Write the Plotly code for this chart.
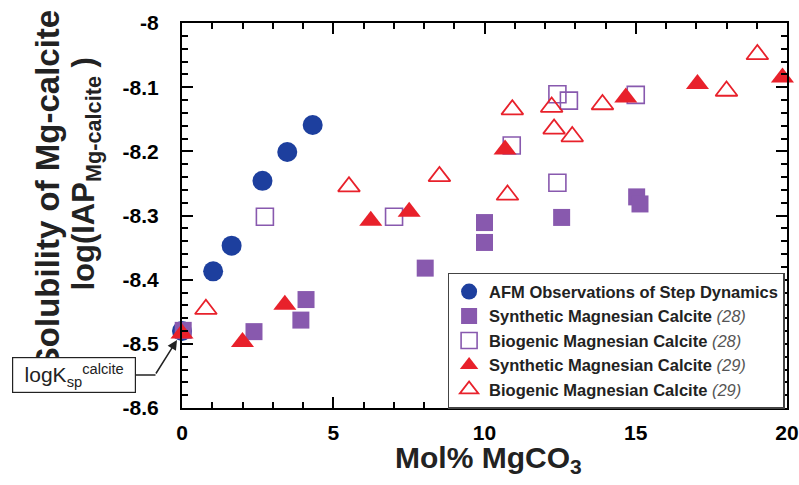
import plotly.graph_objects as go

# ---- data ----
afm_x = [0.0, 1.03, 1.64, 2.66, 3.48, 4.32]
afm_y = [-8.48, -8.387, -8.347, -8.246, -8.201, -8.159]

syn28_x = [0.04, 2.38, 3.93, 4.10, 8.04, 10.0, 10.0, 12.55, 15.03, 15.14]
syn28_y = [-8.479, -8.481, -8.463, -8.431, -8.382, -8.311, -8.342, -8.303, -8.271, -8.282]

bio28_x = [2.74, 7.01, 10.9, 12.41, 12.41, 12.79, 15.0]
bio28_y = [-8.302, -8.302, -8.191, -8.249, -8.111, -8.121, -8.112]

syn29_x = [0.0, 2.0, 3.4, 6.24, 7.51, 10.68, 14.67, 17.04, 19.85]
syn29_y = [-8.484, -8.497, -8.439, -8.308, -8.294, -8.197, -8.116, -8.095, -8.085]

bio29_x = [0.79, 5.52, 8.51, 10.76, 10.92, 12.22, 12.30, 12.9, 13.9, 18.0, 19.02]
bio29_y = [-8.446, -8.255, -8.239, -8.268, -8.135, -8.131, -8.165, -8.177, -8.127, -8.106, -8.049]

x_tickvals = [0, 5, 10, 15, 20]
x_ticktext = ["0", "5", "10", "15", "20"]
y_tickvals = [-8.6, -8.5, -8.4, -8.3, -8.2, -8.1, -8.0]
y_ticktext = ["-8.6", "-8.5", "-8.4", "-8.3", "-8.2", "-8.1", "-8"]

names = [
    "<b>AFM Observations of Step Dynamics</b>",
    "<b>Synthetic Magnesian Calcite</b> <span style='color:#555'><i>(28)</i></span>",
    "<b>Biogenic Magnesian Calcite</b> <span style='color:#555'><i>(28)</i></span>",
    "<b>Synthetic Magnesian Calcite</b> <span style='color:#555'><i>(29)</i></span>",
    "<b>Biogenic Magnesian Calcite</b> <span style='color:#555'><i>(29)</i></span>",
]

BLUE = "#1d3f9e"
PURPLE = "#8859ae"
RED = "#e8212b"
FONT = "Liberation Sans, Arial, Helvetica, sans-serif"

fig = go.Figure()
fig.add_trace(go.Scatter(x=afm_x, y=afm_y, mode="markers", name=names[0], cliponaxis=False,
                         marker=dict(symbol="circle", size=20, color=BLUE, line=dict(width=0))))
fig.add_trace(go.Scatter(x=syn28_x, y=syn28_y, mode="markers", name=names[1], cliponaxis=False,
                         marker=dict(symbol="square", size=17, color=PURPLE, line=dict(width=0))))
fig.add_trace(go.Scatter(x=bio28_x, y=bio28_y, mode="markers", name=names[2], cliponaxis=False,
                         marker=dict(symbol="square-open", size=17, color=PURPLE, line=dict(width=1.6, color=PURPLE))))
fig.add_trace(go.Scatter(x=syn29_x, y=syn29_y, mode="markers", name=names[3], cliponaxis=False,
                         marker=dict(symbol="triangle-up", size=20, color=RED, line=dict(width=0))))
fig.add_trace(go.Scatter(x=bio29_x, y=bio29_y, mode="markers", name=names[4], cliponaxis=False,
                         marker=dict(symbol="triangle-up-open", size=19, color=RED, line=dict(width=1.8, color=RED))))

axis_common = dict(
    showline=True, linewidth=2, linecolor="black", mirror="allticks",
    ticks="inside", ticklen=11, tickwidth=2, tickcolor="black",
    showgrid=False, zeroline=False, automargin=False,
    tickfont=dict(family=FONT, size=21, color="black", weight="bold"),
)

fig.update_xaxes(range=[0, 20], tickmode="array", tickvals=x_tickvals, ticktext=x_ticktext,
                 ticklabelstandoff=5,
                 minor=dict(tickmode="linear", tick0=0, dtick=1, ticks="inside", ticklen=6,
                            tickwidth=1.5, tickcolor="black", showgrid=False),
                 **axis_common)
fig.update_yaxes(range=[-8.6, -8.0], tickmode="array", tickvals=y_tickvals, ticktext=y_ticktext,
                 ticklabelstandoff=17,
                 minor=dict(tickmode="linear", tick0=-8.6, dtick=0.02, ticks="inside", ticklen=6,
                            tickwidth=1.5, tickcolor="black", showgrid=False),
                 **axis_common)

annotations = [
    # y-axis titles
    dict(text="<b>Solubility of Mg-calcite</b>", xref="paper", yref="paper",
         x=-0.223, y=0.566, xanchor="center", yanchor="middle", textangle=-90,
         showarrow=False, font=dict(family=FONT, size=33, color="#222")),
    dict(text="<b>log(IAP<sub>Mg-calcite</sub> )</b>", xref="paper", yref="paper",
         x=-0.158, y=0.610, xanchor="center", yanchor="middle", textangle=-90,
         showarrow=False, font=dict(family=FONT, size=31, color="#222")),
    # x-axis title
    dict(text="<b>Mol% MgCO<sub>3</sub></b>", xref="paper", yref="paper",
         x=0.507, y=-0.0805, xanchor="center", yanchor="top",
         showarrow=False, font=dict(family=FONT, size=30, color="#222")),
    # logKsp box
    dict(text="logK<sub>sp</sub><sup>calcite</sup>", xref="paper", yref="paper",
         x=-0.1785, y=0.0857, xanchor="center", yanchor="middle",
         showarrow=False, width=118, height=30, borderpad=2,
         bordercolor="#222", borderwidth=1.2, bgcolor="white",
         font=dict(family=FONT, size=21, color="#222")),
    # arrow
    dict(text="", x=(177 - 182) / 605, y=(408 - 340) / 385, xref="paper", yref="paper",
         ax=-22, ay=35, axref="pixel", ayref="pixel",
         showarrow=True, arrowhead=2, arrowsize=1.3, arrowwidth=1.5, arrowcolor="#222"),
]

shapes = [
    dict(type="line", xref="paper", yref="paper",
         x0=(136 - 182) / 605, x1=(155.5 - 182) / 605,
         y0=(408 - 375) / 385, y1=(408 - 375) / 385,
         line=dict(color="#222", width=1.5)),
]

fig.update_layout(
    width=799, height=485,
    margin=dict(l=182, r=12, t=23, b=77, autoexpand=False),
    plot_bgcolor="white", paper_bgcolor="white",
    annotations=annotations, shapes=shapes,
    showlegend=True,
    legend=dict(x=0.439, y=0.351, xanchor="left", yanchor="top",
                bgcolor="white", bordercolor="#444", borderwidth=1.5,
                font=dict(family=FONT, size=16.5, color="#222"),
                tracegroupgap=0, itemsizing="trace"),
)

# remove the browser's default body margin so the 799x485 figure fills the window
fig.write_html(
    "out.html",
    config={"displayModeBar": False},
    post_script="document.body.style.margin='0';document.body.style.overflow='hidden';",
)
